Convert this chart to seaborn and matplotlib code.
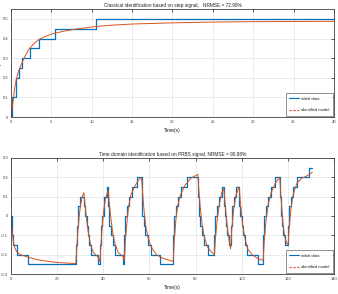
import numpy as np
import pandas as pd
import matplotlib
matplotlib.use("Agg")
import matplotlib.pyplot as plt
import seaborn as sns
from matplotlib.lines import Line2D

sns.set_theme(style="white")
plt.rcParams['font.family'] = ['Liberation Sans Narrow', 'Liberation Sans', 'DejaVu Sans']

# ---- Step identification data ----
step_t = [0, 0.17, 0.6, 1.05, 1.4, 2.3, 3.5, 5.45, 10.5, 40]
step_v = [0, 0.1, 0.2, 0.25, 0.3, 0.35, 0.4, 0.45, 0.5, 0.5]
step_model_t = [0, 0.2, 0.4, 0.6, 0.8, 1.0, 1.4, 1.8, 2.3, 3.0, 3.5, 4.5, 5.4, 6.5, 8, 10.4, 12.5, 15, 20, 25, 30, 35, 40]
step_model_v = [0, 0.06, 0.13, 0.18, 0.215, 0.24, 0.28, 0.315, 0.35, 0.38, 0.396, 0.415, 0.427, 0.437, 0.448, 0.461, 0.468, 0.474, 0.48, 0.484, 0.486, 0.487, 0.488]

# ---- PRBS identification data ----
prbs_t = [0, 0.4, 1.0, 2.4, 7.2,
          28.1, 28.5, 29.0, 29.8, 31.6, 32.2, 32.8, 33.4, 34.0, 34.8, 37.6,
          38.6, 39.0, 39.5, 40.2, 41.5, 42.2, 42.7, 43.4, 44.2, 45.0, 48.6,
          49.2, 49.6, 50.3, 51.0, 52.4, 54.6, 56.6, 57.0, 57.6, 58.3, 59.2, 60.5, 64.8,
          70.3, 70.8, 71.4, 72.2, 73.8, 76.2, 81.0, 81.4, 82.0, 82.7, 83.5, 85.6,
          88.2, 88.6, 89.3, 90.2, 91.3, 92.3, 92.8, 93.3, 93.8, 94.3,
          95.2, 95.7, 96.5, 97.6, 98.9, 99.4, 100.0, 100.6, 101.3, 102.3, 106.9,
          109.3, 109.8, 110.5, 111.5, 112.8, 114.6, 116.5, 116.9, 117.4, 117.9, 118.6,
          120.1, 120.6, 121.4, 122.3, 124.0, 129.1, 130.6]
prbs_v = [0.0, -0.1, -0.15, -0.2, -0.25,
          -0.15, -0.05, 0.05, 0.1, 0.05, 0.0, -0.05, -0.1, -0.15, -0.2, -0.25,
          -0.15, -0.05, 0.0, 0.1, 0.15, 0.05, -0.05, -0.1, -0.15, -0.2, -0.25,
          -0.1, 0.0, 0.05, 0.1, 0.15, 0.2, 0.1, 0.0, -0.05, -0.1, -0.15, -0.2, -0.25,
          -0.1, 0.0, 0.05, 0.1, 0.15, 0.2, 0.1, 0.0, -0.05, -0.1, -0.15, -0.2,
          -0.1, 0.0, 0.05, 0.1, 0.15, 0.05, 0.0, -0.05, -0.1, -0.15,
          -0.05, 0.05, 0.1, 0.15, 0.05, 0.0, -0.05, -0.1, -0.15, -0.2, -0.25,
          -0.1, 0.0, 0.05, 0.1, 0.15, 0.2, 0.1, 0.0, -0.05, -0.1, -0.15,
          -0.05, 0.05, 0.1, 0.15, 0.2, 0.25, 0.25]
prbs_model_t = [0, 0.5, 1.0, 1.5, 2.5, 4, 6, 8, 11, 15, 20, 25, 28.1,
                28.5, 29.0, 29.6, 30.2, 30.9, 31.6, 32.0, 32.6, 33.2, 34.0, 34.8, 35.8, 37.6, 38.6,
                39.0, 39.5, 40.2, 41.0, 41.6, 42.2, 42.6, 43.2, 44.0, 45.0, 46.5, 48.6, 49.2,
                49.6, 50.3, 51.0, 52.0, 53.5, 55.0, 56.6, 57.0, 57.6, 58.4, 59.4, 60.8, 63, 66, 70.3,
                70.8, 71.4, 72.2, 73.5, 75.5, 78, 81.0, 81.4, 82.0, 82.8, 83.8, 85.2, 86.8, 88.2,
                88.6, 89.3, 90.2, 91.3, 92.3, 92.8, 93.3, 93.9, 94.6, 95.2,
                95.7, 96.5, 97.6, 98.9, 99.4, 100.0, 100.7, 101.5, 102.6, 104.5, 107, 109.3,
                109.8, 110.5, 111.5, 112.8, 114.6, 116.5, 116.9, 117.4, 118.0, 118.7, 119.5, 120.1,
                120.6, 121.4, 122.3, 124.0, 126, 128, 130.6]
prbs_model_v = [0.0, -0.08, -0.13, -0.16, -0.185, -0.2, -0.207, -0.215, -0.225, -0.233, -0.24, -0.244, -0.246,
                -0.17, -0.08, 0.0, 0.06, 0.1, 0.12, 0.07, 0.0, -0.06, -0.12, -0.16, -0.19, -0.21, -0.235,
                -0.15, -0.06, 0.03, 0.09, 0.115, 0.13, 0.07, 0.0, -0.08, -0.14, -0.19, -0.21, -0.23,
                -0.13, -0.03, 0.05, 0.11, 0.15, 0.18, 0.2, 0.13, 0.04, -0.05, -0.11, -0.16, -0.2, -0.22, -0.235,
                -0.13, -0.03, 0.05, 0.11, 0.16, 0.195, 0.215, 0.14, 0.05, -0.04, -0.11, -0.16, -0.185, -0.2,
                -0.12, -0.03, 0.05, 0.12, 0.14, 0.07, 0.0, -0.07, -0.13, -0.17,
                -0.07, 0.03, 0.11, 0.15, 0.08, 0.0, -0.07, -0.12, -0.17, -0.2, -0.22, -0.23,
                -0.13, -0.03, 0.06, 0.12, 0.17, 0.2, 0.12, 0.04, -0.05, -0.11, -0.14, -0.15,
                -0.06, 0.04, 0.11, 0.17, 0.195, 0.205, 0.225]

labels = ["initial data", "identified model"]
title_step = "Classical identification based on step signal,   NRMSE = 72.98%"
title_prbs = "Time domain identification based on PRBS signal, NRMSE = 90.88%"

BLUE = "#0072BD"
ORANGE = "#D95319"
AXC = "#404040"

fig = plt.figure(figsize=(3.38, 2.94), dpi=100)
ax1 = fig.add_axes([0.0325, 0.602, 0.9555, 0.367])
ax2 = fig.add_axes([0.0325, 0.068, 0.9555, 0.395])

def style(ax, xticks, yticks, xlim, ylim, title):
    ax.set_xlim(*xlim)
    ax.set_ylim(*ylim)
    ax.set_xticks(xticks)
    ax.set_yticks(yticks)
    ax.set_xticklabels([f"{v:g}" for v in xticks])
    ax.set_yticklabels([f"{v:g}" for v in yticks])
    ax.grid(True, color="#e3e3e3", linewidth=0.5)
    ax.set_axisbelow(True)
    ax.tick_params(axis="both", direction="in", length=2.5, width=0.6, colors=AXC,
                   labelsize=3, pad=2, top=True, right=True)
    for s in ax.spines.values():
        s.set_color(AXC)
        s.set_linewidth(0.6)
    ax.set_title(title, fontsize=3.4, pad=1.5, color="#222222")
    ax.set_xlabel("Time(s)", fontsize=3.6, labelpad=3, color="#222222")
    ax.set_ylabel("Outputs", fontsize=3.6, labelpad=0.5, color="#222222")

df1 = pd.DataFrame({"t": step_t, "v": step_v})
dm1 = pd.DataFrame({"t": step_model_t, "v": step_model_v})
sns.lineplot(data=df1, x="t", y="v", ax=ax1, color=BLUE, linewidth=0.9, drawstyle="steps-post", estimator=None, sort=False)
sns.lineplot(data=dm1, x="t", y="v", ax=ax1, color=ORANGE, linewidth=0.7, estimator=None, sort=False)
style(ax1, [0, 5, 10, 15, 20, 25, 30, 35, 40], [0, 0.1, 0.2, 0.3, 0.4, 0.5], (0, 40), (0, 0.55), title_step)

df2 = pd.DataFrame({"t": prbs_t, "v": prbs_v})
dm2 = pd.DataFrame({"t": prbs_model_t, "v": prbs_model_v})
sns.lineplot(data=df2, x="t", y="v", ax=ax2, color=BLUE, linewidth=0.9, drawstyle="steps-post", estimator=None, sort=False)
sns.lineplot(data=dm2, x="t", y="v", ax=ax2, color=ORANGE, linewidth=0.7, estimator=None, sort=False)
style(ax2, [0, 20, 40, 60, 80, 100, 120, 140], [-0.3, -0.2, -0.1, 0, 0.1, 0.2, 0.3], (0, 140), (-0.3, 0.3), title_prbs)

handles = [Line2D([0], [0], color=BLUE, linewidth=0.8),
           Line2D([0], [0], color=ORANGE, linewidth=0.8, linestyle="--", dashes=(2, 1.5))]
for ax in (ax1, ax2):
    leg = ax.legend(handles, labels, loc="lower right", fontsize=3.0, frameon=True, fancybox=False,
                    edgecolor=AXC, handlelength=2.3, borderpad=0.9, labelspacing=1.8,
                    handletextpad=0.4, borderaxespad=0.3)
    leg.get_frame().set_linewidth(0.5)

fig.savefig("out.png", dpi=100)
